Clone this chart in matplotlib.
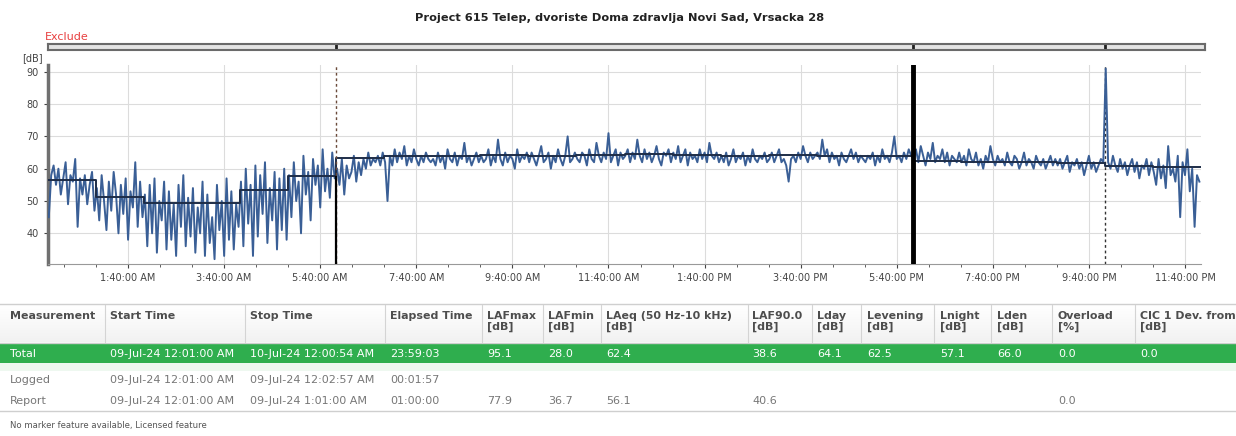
import numpy as np
import matplotlib
matplotlib.use('Agg')
import matplotlib.pyplot as plt
from matplotlib.ticker import FixedLocator
from matplotlib.patches import Rectangle

plt.rcParams['font.family'] = ['DejaVu Sans']

W, H = 1236, 436

title = 'Project 615 Telep, dvoriste Doma zdravlja Novi Sad, Vrsacka 28'

# LAF level, one reading every 3 min, one row per hour [dB]
laf_rows = [
    [45, 58, 61, 55, 60, 52, 57, 62, 49, 58, 56, 63, 42, 57, 52, 58, 49, 55, 59, 47],
    [54, 44, 58, 50, 41, 56, 47, 59, 52, 40, 55, 46, 57, 38, 53, 48, 62, 42, 56, 45],
    [52, 36, 55, 40, 57, 34, 50, 44, 56, 35, 53, 38, 49, 33, 55, 42, 58, 36, 51, 39],
    [54, 34, 48, 40, 56, 33, 52, 37, 45, 32, 55, 41, 50, 33, 57, 38, 53, 35, 49, 42],
    [56, 36, 60, 43, 55, 33, 61, 39, 58, 46, 62, 37, 54, 44, 59, 35, 57, 41, 60, 38],
    [58, 45, 62, 50, 56, 40, 64, 52, 59, 44, 63, 55, 61, 48, 66, 53, 60, 51, 65, 57],
    [60, 55, 63, 52, 61, 57, 59, 64, 56, 62, 58, 63, 60, 65, 61, 63, 62, 64, 61, 65],
    [62, 50, 64, 61, 66, 62, 65, 63, 67, 61, 64, 62, 66, 63, 61, 64, 62, 65, 63, 62],
    [63, 61, 65, 62, 64, 60, 66, 63, 62, 65, 61, 64, 63, 68, 62, 64, 61, 63, 65, 62],
    [64, 62, 63, 66, 61, 64, 62, 69, 63, 61, 65, 62, 64, 63, 60, 66, 62, 64, 63, 65],
    [62, 65, 63, 61, 64, 67, 62, 63, 65, 60, 64, 62, 66, 63, 61, 64, 70, 62, 63, 65],
    [63, 62, 65, 64, 61, 66, 63, 62, 68, 64, 62, 65, 63, 71, 62, 64, 66, 61, 65, 63],
    [64, 66, 62, 65, 63, 69, 64, 62, 66, 63, 65, 62, 64, 67, 63, 61, 65, 64, 66, 62],
    [65, 63, 67, 62, 64, 66, 61, 65, 63, 64, 62, 66, 63, 65, 62, 68, 64, 63, 65, 62],
    [64, 62, 65, 61, 63, 66, 62, 64, 63, 65, 61, 64, 62, 66, 63, 62, 64, 63, 65, 62],
    [63, 65, 62, 64, 66, 62, 63, 61, 56, 63, 64, 62, 65, 63, 67, 64, 62, 65, 63, 64],
    [65, 63, 69, 64, 66, 62, 65, 63, 64, 61, 65, 63, 62, 64, 66, 63, 65, 62, 64, 63],
    [62, 64, 63, 65, 61, 64, 62, 66, 63, 64, 62, 65, 70, 63, 64, 62, 65, 63, 66, 64],
    [63, 66, 62, 67, 64, 61, 65, 63, 68, 62, 64, 63, 66, 62, 65, 61, 64, 63, 62, 65],
    [62, 64, 61, 66, 63, 62, 65, 61, 63, 60, 64, 62, 67, 63, 61, 64, 62, 63, 61, 65],
    [62, 61, 64, 63, 60, 62, 65, 61, 63, 62, 60, 64, 62, 61, 63, 60, 62, 64, 61, 63],
    [61, 63, 60, 62, 64, 59, 62, 61, 63, 60, 62, 58, 61, 64, 60, 62, 59, 61, 63, 62],
    [91, 62, 60, 64, 61, 59, 63, 60, 62, 58, 61, 63, 59, 62, 57, 61, 60, 63, 58, 62],
    [59, 55, 63, 57, 61, 54, 67, 58, 60, 56, 64, 45, 62, 58, 66, 53, 60, 42, 58, 56],
]

# hourly LAeq (report intervals) [dB]
hour_leq = [56.6, 51.2, 49.4, 49.4, 53.5, 57.6, 63.4, 63.8, 64.0, 64.1, 63.9, 64.3,
            64.4, 64.1, 63.9, 64.2, 64.0, 63.8, 62.3, 62.1, 62.0, 61.9, 60.8, 60.6]

xtick_labels = ['1:40:00 AM', '3:40:00 AM', '5:40:00 AM', '7:40:00 AM', '9:40:00 AM',
                '11:40:00 AM', '1:40:00 PM', '3:40:00 PM', '5:40:00 PM', '7:40:00 PM',
                '9:40:00 PM', '11:40:00 PM']

# table
columns = ['Measurement', 'Start Time', 'Stop Time', 'Elapsed Time', 'LAFmax\n[dB]',
           'LAFmin\n[dB]', 'LAeq (50 Hz-10 kHz)\n[dB]', 'LAF90.0\n[dB]', 'Lday\n[dB]',
           'Levening\n[dB]', 'Lnight\n[dB]', 'Lden\n[dB]', 'Overload\n[%]',
           'CIC 1 Dev. from\n[dB]']
row_total = ['Total', '09-Jul-24 12:01:00 AM', '10-Jul-24 12:00:54 AM', '23:59:03',
             '95.1', '28.0', '62.4', '38.6', '64.1', '62.5', '57.1', '66.0', '0.0', '0.0']
row_logged = ['Logged', '09-Jul-24 12:01:00 AM', '09-Jul-24 12:02:57 AM', '00:01:57',
              '', '', '', '', '', '', '', '', '', '']
row_report = ['Report', '09-Jul-24 12:01:00 AM', '09-Jul-24 1:01:00 AM', '01:00:00',
              '77.9', '36.7', '56.1', '40.6', '', '', '', '', '0.0', '']

col_x = [10, 110, 250, 390, 487, 548, 606, 752, 817, 867, 940, 997, 1058, 1140]
col_sep = [105, 245, 385, 482, 543, 601, 748, 812, 861, 934, 991, 1052, 1135]


def fx(x):
    return x / W


def fy(y):
    return 1 - y / H


laf = np.concatenate([np.array(r, dtype=float) for r in laf_rows])
t = 1 / 60 + np.arange(len(laf)) * 0.05

fig = plt.figure(figsize=(W / 100, H / 100), dpi=100)

ax = fig.add_axes([fx(48), fy(264), fx(1201) - fx(48), fy(65) - fy(264)])
ax.plot(t, laf, color='#3a5f96', lw=1.4, zorder=3)
hx = np.arange(25)
ax.step(hx, hour_leq + [hour_leq[-1]], where='post', color='#1e2d48', lw=1.4, zorder=4)

ax.axvline(6, color='#6a4a3a', lw=1, ls=(0, (2, 2)), zorder=5)
ax.vlines(6, 30.5, hour_leq[5], color='black', lw=1.6, zorder=5)
ax.axvline(18, color='black', lw=3.5, zorder=5)
ax.axvline(22, color='#333333', lw=1, ls=(0, (2, 2)), zorder=2)

ax.set_xlim(0, 24)
ax.set_ylim(30.5, 92.1)
ax.set_yticks([40, 50, 60, 70, 80, 90])
ax.xaxis.set_major_locator(FixedLocator(5 / 3 + 2 * np.arange(12)))
ax.xaxis.set_minor_locator(FixedLocator(1 / 3 + 2 / 3 * np.arange(36)))
ax.set_xticklabels(xtick_labels)
ax.tick_params(axis='both', labelsize=7, colors='#444444', length=3, width=0.8)
ax.tick_params(axis='x', which='minor', length=2, color='#444444')
ax.grid(True, color='#dcdcdc', lw=0.8)
ax.set_axisbelow(True)
for s in ['top', 'right']:
    ax.spines[s].set_visible(False)
ax.spines['left'].set_color('#707070')
ax.spines['left'].set_linewidth(2.5)
ax.spines['bottom'].set_color('#999999')

# exclude bar
bar = fig.add_axes([fx(48), fy(50), fx(1205) - fx(48), fy(44) - fy(50)])
bar.set_facecolor('#e4e4e4')
bar.set_xlim(0, 24 * 1157 / 1153)
bar.set_ylim(0, 1)
bar.set_xticks([])
bar.set_yticks([])
for s in bar.spines.values():
    s.set_color('#6a6a6a')
    s.set_linewidth(1.5)
bar.vlines([6, 18, 22], 0, 1, color='#222222', lw=2)

fig.text(fx(45), fy(37), 'Exclude', color='#e84040', fontsize=8, va='center')
fig.text(fx(620), fy(18), title, fontsize=8.2, fontweight='bold', ha='center', va='center',
         color='#222222')
fig.text(fx(22), fy(58), '[dB]', fontsize=7, color='#444444', va='center')

# table
grad = fig.add_axes([0, fy(342), 1, fy(304) - fy(342)])
grad.imshow(np.linspace(0, 1, 20).reshape(-1, 1), aspect='auto', cmap='Greys',
            vmin=0, vmax=9, extent=[0, 1, 0, 1])
grad.axis('off')
fig.add_artist(Rectangle((0, fy(363)), 1, fy(344) - fy(363), transform=fig.transFigure,
                         color='#2fae4e', lw=0))
fig.add_artist(Rectangle((0, fy(371)), 1, fy(363) - fy(371), transform=fig.transFigure,
                         color='#eef8f0', lw=0))
for yy in [304, 343, 411]:
    fig.add_artist(plt.Line2D([0, 1], [fy(yy), fy(yy)], transform=fig.transFigure,
                              color='#cfcfcf', lw=1))
for xx in col_sep:
    fig.add_artist(plt.Line2D([fx(xx), fx(xx)], [fy(305), fy(342)],
                              transform=fig.transFigure, color='#d4d4d4', lw=0.8))

for x, c in zip(col_x, columns):
    fig.text(fx(x), fy(311), c, fontsize=7.9, fontweight='bold', color='#4d4d4d',
             va='top', linespacing=1.1)
for x, v in zip(col_x, row_total):
    fig.text(fx(x), fy(353.5), v, fontsize=8, color='white', va='center')
for x, v in zip(col_x, row_logged):
    fig.text(fx(x), fy(380), v, fontsize=8, color='#777777', va='center')
for x, v in zip(col_x, row_report):
    fig.text(fx(x), fy(401), v, fontsize=8, color='#777777', va='center')

fig.text(fx(10), fy(425), 'No marker feature available, Licensed feature', fontsize=6.1,
         color='#555555', va='center')

fig.savefig('out.png', dpi=100)
